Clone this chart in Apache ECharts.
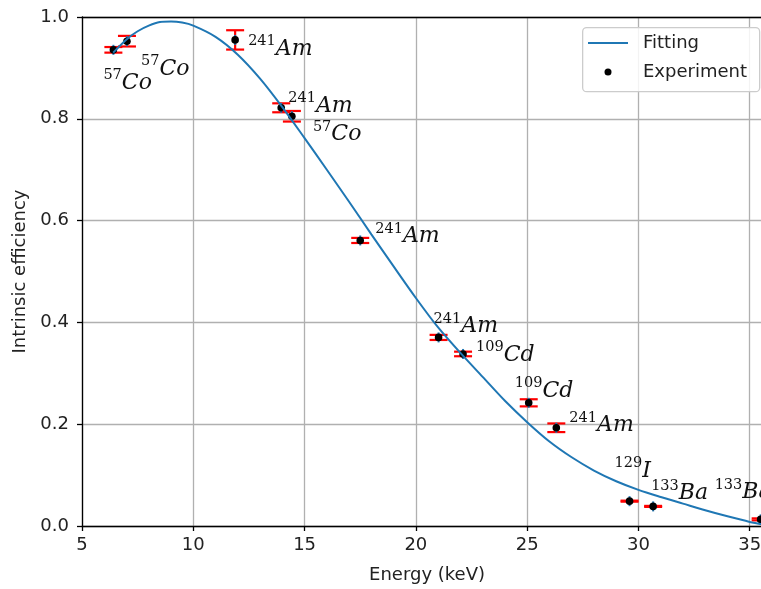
<!DOCTYPE html>
<html>
<head>
<meta charset="utf-8">
<script src="https://cdn.jsdelivr.net/npm/echarts@6/dist/echarts.min.js"></script>
<style>html,body{margin:0;padding:0;background:#fff;overflow:hidden;width:761px;height:589px;}#chart{width:772px;height:589px;}</style>
</head>
<body>
<div id="chart"></div>
<script>
// Experimental points
const energies   = [6.41, 7.02, 11.88, 13.95, 14.43, 17.5, 21.02, 22.12, 25.07, 26.31, 29.6, 30.66, 35.49];
const efficiency = [0.9355, 0.9525, 0.955, 0.8216, 0.805, 0.561, 0.3705, 0.338, 0.242, 0.193, 0.0488, 0.0385, 0.013];
const errors     = [0.0055, 0.0104, 0.019, 0.0088, 0.0104, 0.005, 0.005, 0.0045, 0.007, 0.0085, 0.001, 0.001, 0.002];
const isotopeMass = ['57','57','241','241','57','241','241','109','109','241','129','133','133'];
const isotopeName = ['Co','Co','Am','Am','Co','Am','Am','Cd','Cd','Am','I','Ba','Ba'];
// Fitted curve
const fitEnergy = [6.4, 7.0, 7.5, 8.0, 8.5, 9.0, 9.5, 10.0, 11.0, 12.0, 13.0, 14.0, 15.0, 16.0, 17.0, 18.0, 19.0, 20.0, 21.0, 22.0, 23.0, 24.0, 25.0, 26.0, 27.0, 28.0, 29.0, 30.0, 31.0, 32.0, 33.0, 34.0, 35.0, 35.6];
const fitEff    = [0.930, 0.956, 0.972, 0.983, 0.990, 0.991, 0.989, 0.983, 0.961, 0.926, 0.879, 0.823, 0.762, 0.700, 0.637, 0.573, 0.510, 0.448, 0.390, 0.340, 0.293, 0.246, 0.204, 0.166, 0.135, 0.109, 0.088, 0.071, 0.057, 0.044, 0.031, 0.019, 0.008, 0.003];
// axis
const xTicks = {min: 5, max: 36, interval: 5};
const yTicks = {min: 0, max: 1, interval: 0.2};

// label offsets (pixels, relative to point) - styling only
const labelOffsets = [[-10,33],[14,28],[13,9],[7,-2],[21,18],[15,-4],[-5,-11],[13,1],[-14,-12],[13,-2],[-15,-30],[-2,-13],[-46,-27]];

const chart = echarts.init(document.getElementById('chart'), null, {renderer:'canvas'});
const sans = 'DejaVu Sans';
const txt = '#222';

const errData = energies.map((e,i)=>[e, efficiency[i], errors[i], i]);
const fitData = fitEnergy.map((e,i)=>[e, fitEff[i]]);

function renderErr(params, api){
  const x = api.value(0), y = api.value(1), er = api.value(2), i = api.value(3);
  const p = api.coord([x,y]);
  const t = api.coord([x,y+er]);
  const b = api.coord([x,y-er]);
  const red = {stroke:'#ff0000', lineWidth:2.2};
  const off = labelOffsets[i];
  return {type:'group', children:[
    {type:'line', shape:{x1:p[0],y1:t[1],x2:p[0],y2:b[1]}, style:red},
    {type:'line', shape:{x1:p[0]-9,y1:t[1],x2:p[0]+9,y2:t[1]}, style:red},
    {type:'line', shape:{x1:p[0]-9,y1:b[1],x2:p[0]+9,y2:b[1]}, style:red},
    {type:'line', shape:{x1:p[0],y1:p[1]-5,x2:p[0],y2:p[1]+5}, style:{stroke:'#1f77b4', lineWidth:2}},
    {type:'circle', shape:{cx:p[0],cy:p[1],r:3.8}, style:{fill:'#000'}},
    {type:'text', x:p[0]+off[0], y:p[1]+off[1], style:{
      text:'{s|'+isotopeMass[i]+'}{e|'+isotopeName[i]+'}',
      align:'left', verticalAlign:'middle',
      rich:{
        s:{fontFamily:'DejaVu Serif', fontSize:14.5, lineHeight:15, verticalAlign:'top', fill:'#111'},
        e:{fontFamily:'DejaVu Serif', fontStyle:'italic', fontSize:22, lineHeight:30, fill:'#111'}
      }
    }}
  ]};
}

const option = {
  animation:false,
  backgroundColor:'#fff',
  grid:{left:82, top:17, bottom:60, right:0, containLabel:false},
  xAxis:[{
    type:'value', min:xTicks.min, max:xTicks.max, interval:xTicks.interval,
    name:'Energy (keV)', nameLocation:'middle', nameGap:40,
    nameTextStyle:{fontFamily:sans, fontSize:18, color:txt},
    axisLine:{lineStyle:{color:'#000', width:1.3}},
    axisTick:{show:true, length:5, lineStyle:{color:'#000', width:1.3}},
    axisLabel:{fontFamily:sans, fontSize:18, color:txt, margin:10, showMaxLabel:false},
    splitLine:{show:true, lineStyle:{color:'#b0b0b0', width:1.3}}
  },{
    type:'value', position:'top', min:xTicks.min, max:xTicks.max, interval:xTicks.interval,
    axisLine:{show:true, lineStyle:{color:'#000', width:1.3}},
    axisTick:{show:false}, axisLabel:{show:false}, splitLine:{show:false}
  }],
  yAxis:{
    type:'value', min:yTicks.min, max:yTicks.max, interval:yTicks.interval,
    name:'Intrinsic efficiency', nameLocation:'middle', nameGap:52,
    nameTextStyle:{fontFamily:sans, fontSize:18, color:txt},
    axisLine:{show:true, lineStyle:{color:'#000', width:1.3}},
    axisTick:{show:true, length:5, lineStyle:{color:'#000', width:1.3}},
    axisLabel:{fontFamily:sans, fontSize:18, color:txt, margin:13, formatter:v=>v.toFixed(1)},
    splitLine:{show:true, lineStyle:{color:'#b0b0b0', width:1.3}}
  },
  series:[
    {type:'custom', name:'Experiment', renderItem:renderErr, data:errData, clip:false, z:2,
     encode:{x:0, y:1}},
    {type:'line', name:'Fitting', data:fitData, smooth:0.3, symbol:'none',
     lineStyle:{color:'#1f77b4', width:2}, z:3}
  ],
  graphic:[
    {type:'rect', left:582, top:27, shape:{width:177, height:64, r:4}, style:{fill:'rgba(255,255,255,0.85)', stroke:'#cccccc', lineWidth:1.3}, z:100},
    {type:'line', shape:{x1:588,y1:43,x2:628,y2:43}, style:{stroke:'#1f77b4', lineWidth:2}, z:101},
    {type:'circle', shape:{cx:608,cy:72,r:3.5}, style:{fill:'#000'}, z:101},
    {type:'text', x:643, y:43, style:{text:'Fitting', fontFamily:sans, fontSize:18, fill:txt, verticalAlign:'middle'}, z:101},
    {type:'text', x:643, y:72, style:{text:'Experiment', fontFamily:sans, fontSize:18, fill:txt, verticalAlign:'middle'}, z:101}
  ]
};
chart.setOption(option);
</script>
</body>
</html>
